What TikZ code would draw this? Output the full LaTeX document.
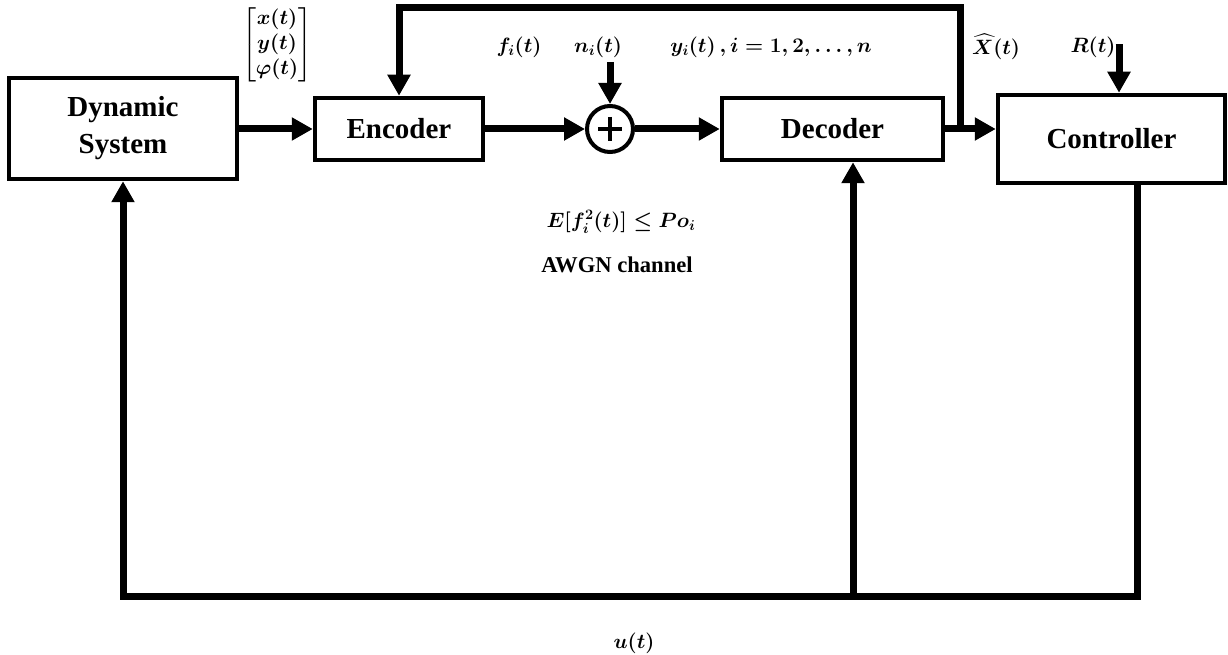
\documentclass[tikz,border=0pt]{standalone}
\usepackage{amsmath}
\usepackage{fontspec}
\setmainfont{Liberation Serif}
\usetikzlibrary{arrows.meta}
\begin{document}
\begin{tikzpicture}[x=1pt,y=-1pt,
  box/.style={draw, line width=4.5pt, inner sep=0pt, align=center,
    font=\fontsize{29}{37}\selectfont\bfseries},
  sumc/.style={draw, circle, line width=4pt, minimum size=46pt, inner sep=0pt},
  arr/.style={line width=7pt, -{Triangle[length=21pt,width=22pt]}},
  lbl/.style={inner sep=0pt, font=\fontsize{20}{27}\selectfont\boldmath},
  veclbl/.style={inner sep=0pt, font=\fontsize{20}{25}\selectfont\boldmath},
  txt/.style={inner sep=0pt, font=\fontsize{22.6}{26}\selectfont\bfseries}]
\useasboundingbox (0,0) rectangle (1228,655);
% blocks
\node[box, minimum width=228pt, minimum height=101pt] (dyn) at (123,128.5) {Dynamic\\System};
\node[box, minimum width=168pt, minimum height=62pt] (enc) at (399,129) {Encoder};
\node[sumc] (sum) at (610,129) {};
\draw[line width=4pt] (sum.center) ++(-12,0) -- ++(24,0);
\draw[line width=4pt] (sum.center) ++(0,-12) -- ++(0,24);
\node[box, minimum width=221pt, minimum height=62pt] (dec) at (832.5,129) {Decoder};
\node[box, minimum width=227pt, minimum height=88pt] (ctrl) at (1111.5,139) {Controller};
% labels
\node[veclbl] (vec) at (277,45) {$\begin{bmatrix}x(t)\\ y(t)\\ \varphi(t)\end{bmatrix}$};
\node[lbl] (flab) at (519,47) {$f_i(t)$};
\node[lbl] (nlab) at (598,47) {$n_i(t)$};
\node[lbl] (ylab) at (771,47) {$y_i(t)\,, i=1,2,\dots,n$};
\node[lbl] (xlab) at (996,47) {$\widehat{X}(t)$};
\node[lbl] (rlab) at (1093,47) {$R(t)$};
\node[lbl] (elab) at (621,222) {$E[f_i^2(t)]\le Po_i$};
\node[txt] (awgn) at (617,265) {AWGN channel};
\node[lbl] (ulab) at (634,643) {$u(t)$};
% coordinates
\coordinate (fb) at (960,129);
\coordinate (fbtop) at (960,8);
\coordinate (nin) at (610,62);
\coordinate (rin) at (1119,48);
\coordinate (cb) at (1137,596);
\coordinate (db) at (853,596);
\coordinate (lb) at (123,596);
% connectors
\draw[arr] (dyn.east |- enc.west) -- (enc.west);
\draw[arr] (enc.east) -- (sum.west);
\draw[arr] (sum.east) -- (dec.west);
\draw[arr] (dec.east) -- (ctrl.west |- dec.east);
\draw[arr] (fb) -- (fbtop) -| (enc.north);
\draw[arr] (nin) -- (sum.north);
\draw[arr] (rlab.east |- rin) -| (rin |- ctrl.north);
\draw[arr] (cb |- ctrl.south) -- (cb) -- (lb) -- (dyn.south);
\draw[arr] (db) -- (db |- dec.south);
\end{tikzpicture}
\end{document}
